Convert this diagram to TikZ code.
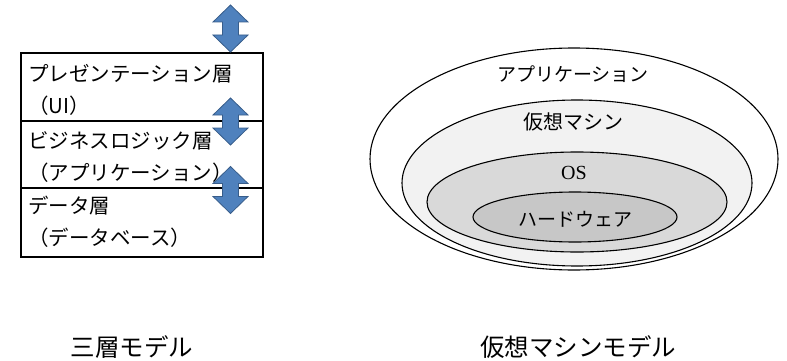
\documentclass[tikz,border=0pt]{standalone}
\usepackage{fontspec}
\setmainfont{Noto Sans CJK JP}
\newfontfamily\osfont{Liberation Serif}
\usepackage{tikz}

\definecolor{arrowblue}{HTML}{4F81BD}
\definecolor{arrowedge}{HTML}{385D8A}
\tikzset{
  layertext/.style={anchor=west,align=left,inner sep=0pt,
    font=\fontsize{20.5}{32}\selectfont},
  layerbox/.style={draw,line width=1.4pt},
  ringtext/.style={inner sep=0pt,font=\fontsize{19}{21}\selectfont},
  ring/.style={draw,line width=1.1pt},
  caption/.style={inner sep=0pt,font=\fontsize{24.5}{26}\selectfont},
  updown/.pic={
    \draw[fill=arrowblue,draw=arrowedge,line width=0.8pt]
      (0,-23.5) -- (17.5,-6.5) -- (8,-6.5) -- (8,6.5) -- (17.5,6.5)
      -- (0,23.5) -- (-17.5,6.5) -- (-8,6.5) -- (-8,-6.5) -- (-17.5,-6.5) -- cycle;
  }
}

\begin{document}
\begin{tikzpicture}[x=1pt,y=-1pt]
\useasboundingbox (0,0) rectangle (787,361);
% three layer model
\draw[layerbox] (21,53) rectangle (263,257);
\draw[layerbox] (21,121) -- (263,121);
\draw[layerbox] (21,188) -- (263,188);
\node[layertext] (pres) at (28,90) {プレゼンテーション層\\（UI）};
\node[layertext] (logic) at (28,157) {ビジネスロジック層\\（アプリケーション）};
\node[layertext] (data) at (28,222) {データ層\\（データベース）};
\pic at (230.5,28.5) {updown};
\pic at (230.5,121.5) {updown};
\pic at (230.5,190) {updown};
% virtual machine model
\draw[ring,fill=white] (574,159) ellipse [x radius=204,y radius=111];
\draw[ring,fill=black!5] (577,183) ellipse [x radius=175,y radius=83];
\draw[ring,fill=black!15] (577,202) ellipse [x radius=150,y radius=50];
\draw[ring,fill=black!22] (575,217) ellipse [x radius=102,y radius=25];
\node[ringtext] (app) at (573,74) {アプリケーション};
\node[ringtext,font=\fontsize{20}{22}\selectfont] (vm) at (573,122) {仮想マシン};
\node[ringtext,font=\osfont\fontsize{20}{22}\selectfont] (os) at (574,173) {OS};
\node[ringtext] (hw) at (575,219) {ハードウェア};
% captions
\node[caption] (threelayer) at (132,347) {三層モデル};
\node[caption] (vmmodel) at (578,347) {仮想マシンモデル};
\end{tikzpicture}
\end{document}
